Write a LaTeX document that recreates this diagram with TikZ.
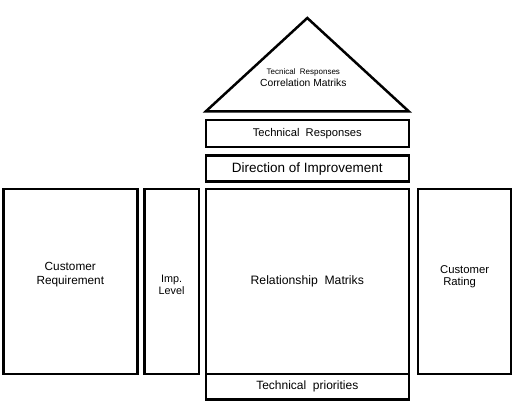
\documentclass[tikz,border=0pt]{standalone}
\usepackage{fontspec}
\setmainfont{Liberation Sans}
\usetikzlibrary{positioning}

\begin{document}
\begin{tikzpicture}[
      x=1pt, y=1pt,
      node distance=7pt,
      box/.style={
          rectangle,
          draw,
          line width=2.5pt,
          outer sep=0pt,
          align=center,
          inner sep=2pt
        },
      tall/.style={box, minimum height=185pt},
      bar/.style={box, minimum width=203pt, minimum height=26pt}
    ]
    \useasboundingbox (0,0) rectangle (514,405);

    \node[tall, minimum width=203pt, font=\fontsize{12.2}{14}\selectfont] (relmat) at (307.3,123.5) {Relationship\ \ Matriks};
    \node[bar, below=0pt of relmat, minimum height=25.5pt, font=\fontsize{12}{13}\selectfont] (techprio) {Technical\ \ priorities};

    \node[tall, minimum width=54.5pt, left=of relmat,
      label={[align=center, yshift=-3pt, font=\fontsize{10.8}{12}\selectfont]center:Imp.\\Level}] (implevel) {};
    \node[tall, minimum width=134pt, left=of implevel,
      label={[align=center, yshift=7pt, font=\fontsize{11.8}{13.3}\selectfont]center:Customer\\Requirement}] (custreq) {};
    \node[tall, minimum width=93pt, right=9.3pt of relmat,
      label={[align=left, yshift=5pt, font=\fontsize{11.3}{12}\selectfont]center:Customer\\\ Rating}] (custrat) {};

    \node[bar, above=7.3pt of relmat, font=\fontsize{13.5}{15}\selectfont] (dirimp) {Direction of Improvement};
    \node[bar, above=8.7pt of dirimp, minimum height=27pt, font=\fontsize{11.2}{13}\selectfont] (techres) {Technical\ \ Responses};

    % roof
    \coordinate[above=8.6pt of techres.north west] (tl);
    \coordinate[above=8.6pt of techres.north east] (tr);
    \coordinate[above=102pt of techres.north] (apex);
    \draw[line width=2.5pt] (tl) -- (apex) -- (tr) -- cycle;
    \node[align=center, inner sep=0pt] (corr) at ([xshift=-4pt, yshift=42pt]techres.north)
      {{\fontsize{8}{13}\selectfont Tecnical\ \ Responses}\\{\fontsize{10.3}{13}\selectfont Correlation Matriks}};
  \end{tikzpicture}
\end{document}
